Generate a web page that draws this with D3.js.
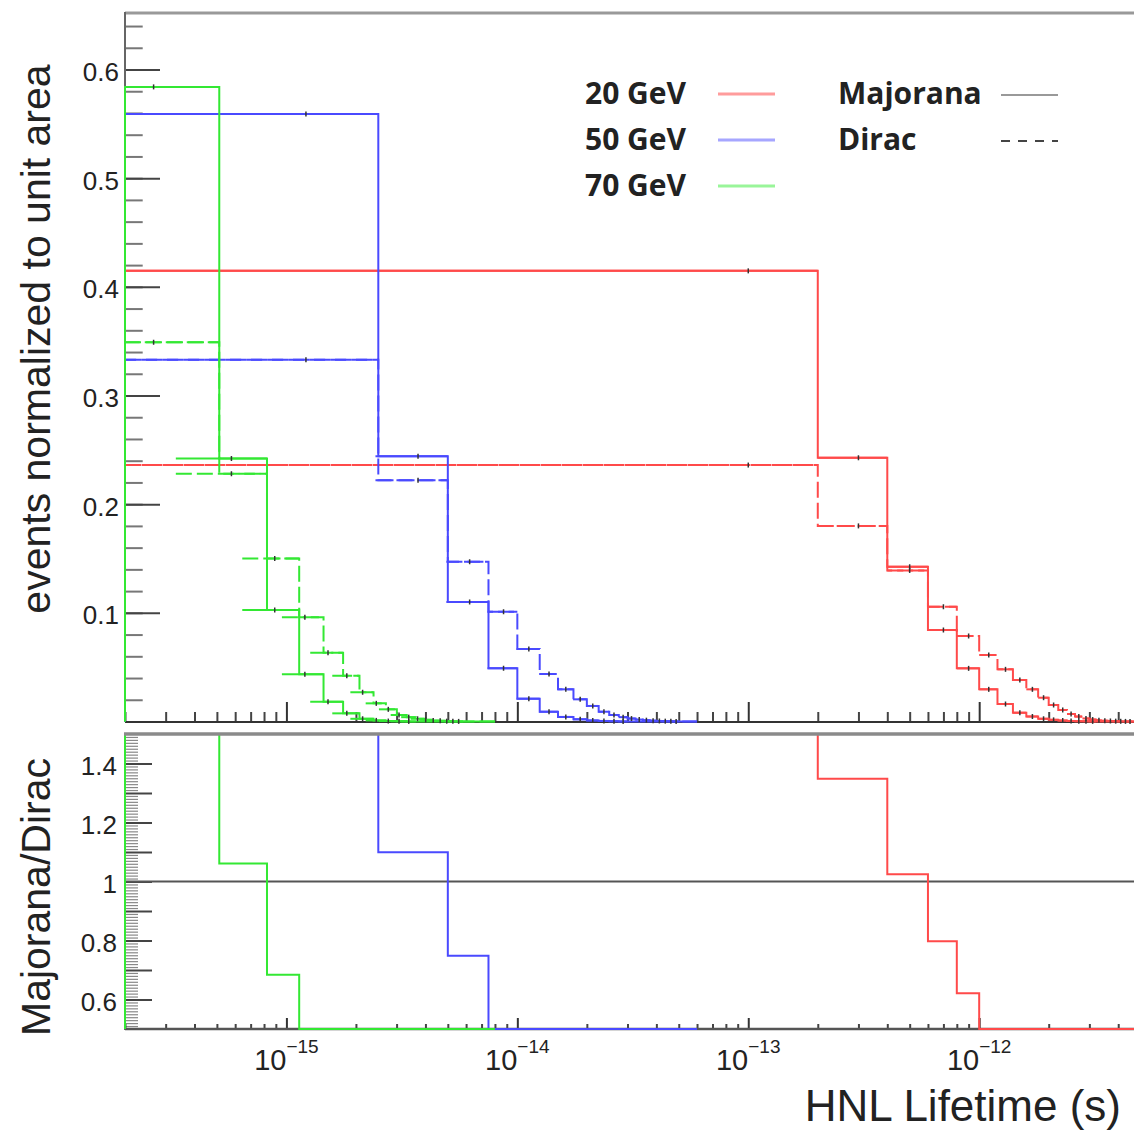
<!DOCTYPE html>
<html>
<head>
<meta charset="utf-8">
<script src="https://cdn.jsdelivr.net/npm/d3@7"></script>
<style>
  body { margin: 0; background: #fff; }
  text { font-family: "Liberation Sans", Arial, sans-serif; fill: #222; }
</style>
</head>
<body>
<script>
// ---- data ----
var masses = ['20 GeV', '50 GeV', '70 GeV'];
// binning of each histogram (seconds)
var binLo = [0, 0, 2e-16];
var binWidth = [2e-13, 2.5e-15, 3.12e-16];
var nBins = [25, 24, 25];
// left overhang of the horizontal error bars (seconds)
var barOverhang = [0, 7e-17, 1.8e-16];

// normalized contents, bins from the left (missing = 0)
var majorana20 = [0.4147, 0.2427, 0.1424, 0.0842, 0.0489, 0.0296, 0.0161, 0.0081, 0.0046, 0.0025, 0.0015, 0.0009, 0.0005, 0.0003, 0.0002, 0.0001];
var dirac20    = [0.236, 0.180, 0.139, 0.1056, 0.0787, 0.0612, 0.048, 0.0382, 0.0296, 0.0219, 0.0152, 0.0106, 0.0069, 0.0045, 0.0028, 0.0018, 0.0012, 0.0008, 0.0005, 0.0003, 0.0002, 0.0001, 0.0001];
var majorana50 = [0.559, 0.244, 0.110, 0.049, 0.021, 0.009, 0.0042, 0.002, 0.001, 0.0005, 0.0003, 0.0001];
var dirac50    = [0.333, 0.222, 0.147, 0.101, 0.0667, 0.0437, 0.0296, 0.0204, 0.0143, 0.009, 0.006, 0.004, 0.0027, 0.0018, 0.0012, 0.0008, 0.0005, 0.0003, 0.0002, 0.0001];
var majorana70 = [0.584, 0.242, 0.1026, 0.0434, 0.0182, 0.0075, 0.0025, 0.001, 0.0004, 0.0002, 0.0001];
var dirac70    = [0.349, 0.228, 0.150, 0.096, 0.0633, 0.042, 0.0269, 0.0167, 0.0112, 0.006, 0.004, 0.0025, 0.0015, 0.001, 0.0006, 0.0003, 0.0002, 0.0001];

var majorana = [majorana20, majorana50, majorana70];
var dirac = [dirac20, dirac50, dirac70];

var topTicks = [0.1, 0.2, 0.3, 0.4, 0.5, 0.6];
var ratioTicks = [0.6, 0.8, 1, 1.2, 1.4];
var labelDecades = [-15, -14, -13, -12];

// colors
var lineColors = ['#ff4a4a', '#4a4aff', '#33e833'];
var legendColors = ['#ff9c9c', '#a6a6ff', '#99f599'];

// ---- layout ----
var W = 1134, H = 1133;
var left = 125;
var xMin = 2e-16, xMax = 5e-12;

var svg = d3.select('body').append('svg')
  .attr('width', W)
  .attr('height', H);

svg.append('rect').attr('width', W).attr('height', H).attr('fill', '#fff');

var x = d3.scaleLog().domain([xMin, xMax]).range([left, 1140.6]);
var yTop = d3.scaleLinear().domain([0, 0.652]).range([721.5, 13]);
var yBot = d3.scaleLinear().domain([0.5, 1.5]).range([1029, 734]).clamp(true);

function xv(v) { return x(Math.max(v, xMin)); }

function edges(m) {
  return d3.range(nBins[m] + 1).map(function(k) { return binLo[m] + k * binWidth[m]; });
}

function val(arr, k) { return arr[k] || 0; }

var allTicks = x.ticks();
var isMajor = function(v) { var l = Math.log10(v); return Math.abs(l - Math.round(l)) < 1e-6; };
var xMajors = allTicks.filter(isMajor);
var xMinors = allTicks.filter(function(v) { return !isMajor(v); });

// ---- frames and axes ----
function styleAxis(g, color, width) {
  g.select('.domain').remove();
  g.selectAll('line').attr('stroke', color).attr('stroke-width', width);
}

// top panel
svg.append('g').attr('transform', 'translate(' + left + ',0)')
   .call(d3.axisRight(yTop).tickValues(d3.range(0.02, 0.65, 0.02)).tickSize(17.7).tickFormat(''))
   .call(styleAxis, '#777', 2);
var yAx = svg.append('g').attr('transform', 'translate(' + left + ',0)')
   .call(d3.axisLeft(yTop).tickValues(topTicks).tickSize(-35).tickPadding(6).tickFormat(d3.format('.1f')))
   .call(styleAxis, '#444', 2);
yAx.selectAll('text').attr('dy', '0.42em').style('font-size', '26px').attr('fill', '#333');

svg.append('g').attr('transform', 'translate(0,722)')
   .call(d3.axisTop(x).tickValues(xMinors).tickSize(10).tickFormat(''))
   .call(styleAxis, '#444', 2);
svg.append('g').attr('transform', 'translate(0,722)')
   .call(d3.axisTop(x).tickValues(xMajors).tickSize(20).tickFormat(''))
   .call(styleAxis, '#333', 2);

svg.append('line').attr('x1', left).attr('x2', W).attr('y1', 13).attr('y2', 13)
   .attr('stroke', '#999').attr('stroke-width', 3);
svg.append('line').attr('x1', left).attr('x2', left).attr('y1', 12).attr('y2', 722)
   .attr('stroke', '#666').attr('stroke-width', 2);
svg.append('line').attr('x1', left).attr('x2', W).attr('y1', 722).attr('y2', 722)
   .attr('stroke', '#333').attr('stroke-width', 2);

// bottom panel
var ratioMinor = d3.range(51, 150).map(function(d) { return d / 100; }).filter(function(d) { return Math.round(d * 100) % 10 !== 0; });
svg.append('g').attr('transform', 'translate(' + left + ',0)')
   .call(d3.axisRight(yBot).tickValues(ratioMinor).tickSize(13).tickFormat(''))
   .call(styleAxis, '#888', 1.2);
svg.append('g').attr('transform', 'translate(' + left + ',0)')
   .call(d3.axisRight(yBot).tickValues(d3.range(6, 15).map(function(d) { return d / 10; })).tickSize(27).tickFormat(''))
   .call(styleAxis, '#444', 2);
var rAx = svg.append('g').attr('transform', 'translate(' + left + ',0)')
   .call(d3.axisLeft(yBot).tickValues(ratioTicks).tickSize(0).tickPadding(8).tickFormat(d3.format('~g')))
   .call(styleAxis, '#444', 2);
rAx.selectAll('text').attr('dy', '0.42em').style('font-size', '26px').attr('fill', '#333');

svg.append('g').attr('transform', 'translate(0,1029)')
   .call(d3.axisTop(x).tickValues(xMinors).tickSize(5).tickFormat(''))
   .call(styleAxis, '#444', 2);
svg.append('g').attr('transform', 'translate(0,1029)')
   .call(d3.axisTop(x).tickValues(xMajors).tickSize(11).tickFormat(''))
   .call(styleAxis, '#333', 2);

svg.append('line').attr('x1', left).attr('x2', left).attr('y1', 734).attr('y2', 1030)
   .attr('stroke', '#666').attr('stroke-width', 2);
svg.append('line').attr('x1', left).attr('x2', W).attr('y1', 1029).attr('y2', 1029)
   .attr('stroke', '#555').attr('stroke-width', 2.5);
svg.append('line').attr('x1', left).attr('x2', W).attr('y1', yBot(1)).attr('y2', yBot(1))
   .attr('stroke', '#555').attr('stroke-width', 2);

// x labels 10^n
labelDecades.forEach(function(n) {
  var px = x(Math.pow(10, n));
  svg.append('text').attr('x', px).attr('y', 1070).attr('text-anchor', 'end')
     .style('font-size', '29px').attr('fill', '#333').text('10');
  svg.append('text').attr('x', px).attr('y', 1053).attr('text-anchor', 'start')
     .style('font-size', '19px').attr('fill', '#333').text('\u2212' + Math.abs(n));
});

// ---- histograms ----
var stepLine = d3.line().curve(d3.curveStepAfter);

function histPoints(vals, m, yS, y0) {
  var e = edges(m), n = nBins[m];
  var pts = [[xv(e[0]), yS(y0)]];
  for (var k = 0; k < n; k++) pts.push([xv(e[k]), yS(vals[k])]);
  pts.push([xv(e[n]), yS(vals[n - 1])]);
  pts.push([xv(e[n]), yS(y0)]);
  return pts;
}

var topG = svg.append('g');
var botG = svg.append('g');

[0, 1, 2].forEach(function(m) {
  var n = nBins[m];
  var e = edges(m);
  [majorana[m], dirac[m]].forEach(function(arr, j) {
    var vals = d3.range(n).map(function(k) { return val(arr, k); });
    var dash = j === 1 ? '16,5' : null;
    topG.append('path')
        .attr('d', stepLine(histPoints(vals, m, yTop, 0)))
        .attr('fill', 'none')
        .attr('stroke', lineColors[m])
        .attr('stroke-width', 2)
        .attr('stroke-dasharray', dash);
    // horizontal error bars with markers
    var bins = d3.range(n).filter(function(k) { return vals[k] > 0; });
    topG.selectAll(null).data(bins).enter().append('line')
        .attr('x1', function(k) { return xv(e[k] - barOverhang[m]); })
        .attr('x2', function(k) { return xv(e[k + 1]); })
        .attr('y1', function(k) { return yTop(vals[k]); })
        .attr('y2', function(k) { return yTop(vals[k]); })
        .attr('stroke', lineColors[m])
        .attr('stroke-width', 2)
        .attr('stroke-dasharray', dash);
    topG.selectAll(null).data(bins).enter().append('line')
        .attr('x1', function(k) { return xv((e[k] - barOverhang[m] + e[k + 1]) / 2); })
        .attr('x2', function(k) { return xv((e[k] - barOverhang[m] + e[k + 1]) / 2); })
        .attr('y1', function(k) { return yTop(vals[k]) - 2.5; })
        .attr('y2', function(k) { return yTop(vals[k]) + 2.5; })
        .attr('stroke', '#333')
        .attr('stroke-width', 1.5);
  });

  // ratio Majorana/Dirac
  var ratio = d3.range(n).map(function(k) {
    var d = val(dirac[m], k);
    return d > 0 ? val(majorana[m], k) / d : 0;
  });
  botG.append('path')
      .attr('d', stepLine(histPoints(ratio, m, yBot, 0)))
      .attr('fill', 'none')
      .attr('stroke', lineColors[m])
      .attr('stroke-width', 2);
});

// bottom panel top border over the clipped ratio lines
svg.append('line').attr('x1', left - 1).attr('x2', W).attr('y1', 734).attr('y2', 734)
   .attr('stroke', '#8a8a8a').attr('stroke-width', 3.5);

// ---- legend ----
var legend = svg.append('g');
masses.forEach(function(name, i) {
  var yy = 104 + i * 46;
  legend.append('text').attr('x', 585).attr('y', yy)
        .style('font-family', '"Open Sans", sans-serif').style('font-weight', 700).style('font-size', '30px')
        .attr('fill', '#111').text(name);
  legend.append('line').attr('x1', 718).attr('x2', 775).attr('y1', yy - 10).attr('y2', yy - 10)
        .attr('stroke', legendColors[i]).attr('stroke-width', 3);
});
var types = ['Majorana', 'Dirac'];
types.forEach(function(name, i) {
  var yy = 104 + i * 46;
  legend.append('text').attr('x', 838).attr('y', yy)
        .style('font-family', '"Open Sans", sans-serif').style('font-weight', 700).style('font-size', '30px')
        .attr('fill', '#111').text(name);
  legend.append('line').attr('x1', 1001).attr('x2', 1058).attr('y1', yy - 9).attr('y2', yy - 9)
        .attr('stroke', i === 0 ? '#999' : '#444').attr('stroke-width', 2)
        .attr('stroke-dasharray', i === 0 ? null : '9,8');
});

// ---- axis titles ----
svg.append('text')
   .attr('transform', 'translate(50,339)rotate(-90)')
   .attr('text-anchor', 'middle')
   .style('font-size', '41px')
   .text('events normalized to unit area');
svg.append('text')
   .attr('transform', 'translate(50,897)rotate(-90)')
   .attr('text-anchor', 'middle')
   .style('font-size', '41px')
   .text('Majorana/Dirac');
svg.append('text')
   .attr('x', 1121).attr('y', 1121)
   .attr('text-anchor', 'end')
   .style('font-size', '44px')
   .text('HNL Lifetime (s)');
</script>
</body>
</html>
